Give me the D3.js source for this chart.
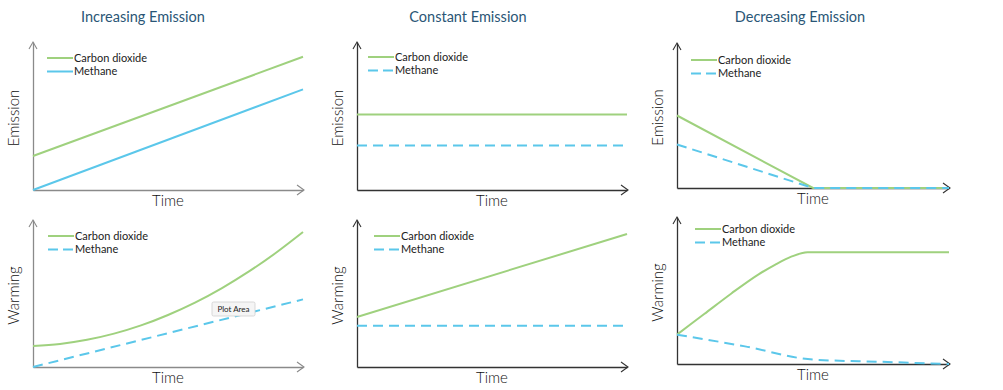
<!DOCTYPE html>
<html>
<head>
<meta charset="utf-8">
<script src="https://cdn.jsdelivr.net/npm/d3@7"></script>
<style>
  body { margin: 0; background: #fff; }
  text { font-family: Lato, "Open Sans", sans-serif; }
</style>
</head>
<body>
<div id="plot"></div>
<script>
// panel titles (top row only)
const titles = ['Increasing Emission', 'Constant Emission', 'Decreasing Emission'];
const seriesNames = ['Carbon dioxide', 'Methane'];

// emission panels (time 0..10, value 0..10)
const incCo2T = [0, 10],  incCo2V = [2.3, 9.0];
const incCh4T = [0, 10],  incCh4V = [0, 6.8];
const conCo2T = [0, 10],  conCo2V = [5.1, 5.1];
const conCh4T = [0, 10],  conCh4V = [3.0, 3.0];
const decCo2T = [0, 5, 10], decCo2V = [5.0, 0, 0];
const decCh4T = [0, 5, 10], decCh4V = [3.0, 0, 0];

// warming panels
const wIncCo2T = [0, 1, 2, 3, 4, 5, 6, 7, 8, 9, 10];
const wIncCo2V = [1.43, 1.57, 1.85, 2.27, 2.83, 3.54, 4.38, 5.37, 6.5, 7.77, 9.18];
const wIncCh4T = [0, 10], wIncCh4V = [0, 4.6];
const wConCo2T = [0, 10], wConCo2V = [3.4, 9.05];
const wConCh4T = [0, 10], wConCh4V = [2.8, 2.8];
const wDecCo2T = [0, 1, 2, 3, 3.6, 4.2, 4.8, 6, 8, 10];
const wDecCo2V = [2.0, 3.4, 4.8, 6.1, 6.75, 7.3, 7.6, 7.6, 7.6, 7.6];
const wDecCh4T = [0, 2.5, 5, 7.5, 10];
const wDecCh4V = [2.0, 1.2, 0.3, 0.15, 0.0];

const green = '#9fd17e', blue = '#5bc7ea';

let width = 1003, height = 390;
let svg = d3.select('#plot').append('svg')
  .attr('width', width).attr('height', height);

const zip = (t, v) => t.map((d, i) => ({ t: d, v: v[i] }));

let panels = [
  { x0: 33,  x1: 303, y0: 190, y1: 42,  ylab: 'Emission', axisCol: '#8a8a8a', dash: false, smooth: false,
    co2: zip(incCo2T, incCo2V), ch4: zip(incCh4T, incCh4V), leg: [47, 58], title: 0, titleX: 143, timeY: 201 },
  { x0: 357, x1: 627, y0: 190, y1: 42, ylab: 'Emission', axisCol: '#333', dash: true, smooth: false,
    co2: zip(conCo2T, conCo2V), ch4: zip(conCh4T, conCh4V), leg: [368, 57], title: 1, titleX: 468, timeY: 201 },
  { x0: 677, x1: 949, y0: 188, y1: 43, ylab: 'Emission', axisCol: '#333', dash: true, smooth: false,
    co2: zip(decCo2T, decCo2V), ch4: zip(decCh4T, decCh4V), leg: [691, 60], title: 2, titleX: 800, timeY: 199 },
  { x0: 33,  x1: 303, y0: 367, y1: 220, ylab: 'Warming', axisCol: '#8a8a8a', dash: true, smooth: true,
    co2: zip(wIncCo2T, wIncCo2V), ch4: zip(wIncCh4T, wIncCh4V), leg: [48, 236], timeY: 378 },
  { x0: 357, x1: 627, y0: 367, y1: 220, ylab: 'Warming', axisCol: '#333', dash: true, smooth: true,
    co2: zip(wConCo2T, wConCo2V), ch4: zip(wConCh4T, wConCh4V), leg: [374, 236], timeY: 378 },
  { x0: 677, x1: 949, y0: 364, y1: 217, ylab: 'Warming', axisCol: '#333', dash: true, smooth: true,
    co2: zip(wDecCo2T, wDecCo2V), ch4: zip(wDecCh4T, wDecCh4V), leg: [695, 229], timeY: 375 }
];

panels.forEach(p => {
  let xScale = d3.scaleLinear().domain([0, 10]).range([p.x0, p.x1]);
  let yScale = d3.scaleLinear().domain([0, 10]).range([p.y0, p.y1]);
  let g = svg.append('g');

  // axes without ticks
  g.append('g').attr('transform', `translate(0,${p.y0})`)
    .call(d3.axisBottom(xScale).ticks(0).tickSizeOuter(0))
    .select('.domain').attr('stroke', p.axisCol).attr('stroke-width', 1.3);
  g.append('g').attr('transform', `translate(${p.x0},0)`)
    .call(d3.axisLeft(yScale).ticks(0).tickSizeOuter(0))
    .select('.domain').attr('stroke', p.axisCol).attr('stroke-width', 1.3);

  // open arrowheads
  g.append('path')
    .attr('d', `M${p.x1 - 6},${p.y0 - 5}L${p.x1 + 1},${p.y0}L${p.x1 - 6},${p.y0 + 5}`)
    .attr('fill', 'none').attr('stroke', p.axisCol).attr('stroke-width', 1.1);
  g.append('path')
    .attr('d', `M${p.x0 - 4},${p.y1 + 7}L${p.x0},${p.y1}L${p.x0 + 4},${p.y1 + 7}`)
    .attr('fill', 'none').attr('stroke', p.axisCol).attr('stroke-width', 1.1);

  let line = d3.line().x(d => xScale(d.t)).y(d => yScale(d.v))
    .curve(p.smooth ? d3.curveMonotoneX : d3.curveLinear);

  g.append('path').datum(p.co2).attr('d', line)
    .attr('fill', 'none').attr('stroke', green).attr('stroke-width', 2);
  g.append('path').datum(p.ch4).attr('d', line)
    .attr('fill', 'none').attr('stroke', blue).attr('stroke-width', 2)
    .attr('stroke-dasharray', p.dash ? '10,6' : null);

  // legend
  [0, 1].forEach(i => {
    let ly = p.leg[1] + i * 13.5;
    g.append('line')
      .attr('x1', p.leg[0]).attr('x2', p.leg[0] + 26)
      .attr('y1', ly).attr('y2', ly)
      .attr('stroke', i == 0 ? green : blue).attr('stroke-width', 2)
      .attr('stroke-dasharray', (i == 1 && p.dash) ? '10,5' : null);
    g.append('text')
      .attr('x', p.leg[0] + 27).attr('y', ly).attr('dy', '0.35em')
      .attr('font-size', 11).attr('fill', '#222')
      .text(seriesNames[i]);
  });

  // axis labels
  g.append('text')
    .attr('x', (p.x0 + p.x1) / 2).attr('y', p.timeY).attr('dy', '0.35em')
    .attr('text-anchor', 'middle').attr('font-size', 15).attr('font-weight', 300).attr('fill', '#111')
    .text('Time');
  g.append('text')
    .attr('transform', `translate(${p.x0 - 19},${(p.y0 + p.y1) / 2 + 2}) rotate(-90)`)
    .attr('text-anchor', 'middle').attr('dy', '0.35em')
    .attr('font-size', 15).attr('font-weight', 300).attr('fill', '#111')
    .text(p.ylab);

  if (p.title !== undefined) {
    svg.append('text')
      .attr('x', p.titleX).attr('y', 17).attr('dy', '0.35em')
      .attr('text-anchor', 'middle').attr('font-size', 14.5)
      .attr('fill', '#2a5676')
      .text(titles[p.title]);
  }
});

// "Plot Area" hover tip captured in the picture
let tip = svg.append('g').attr('transform', 'translate(212,302)');
tip.append('rect').attr('width', 43).attr('height', 14).attr('rx', 1.5)
  .attr('fill', '#f5f5f5').attr('stroke', '#cfcfcf').attr('stroke-width', 0.8);
tip.append('text').attr('x', 21.5).attr('y', 7.5).attr('dy', '0.35em')
  .attr('text-anchor', 'middle').attr('font-size', 8).attr('fill', '#222')
  .text('Plot Area');
</script>
</body>
</html>
